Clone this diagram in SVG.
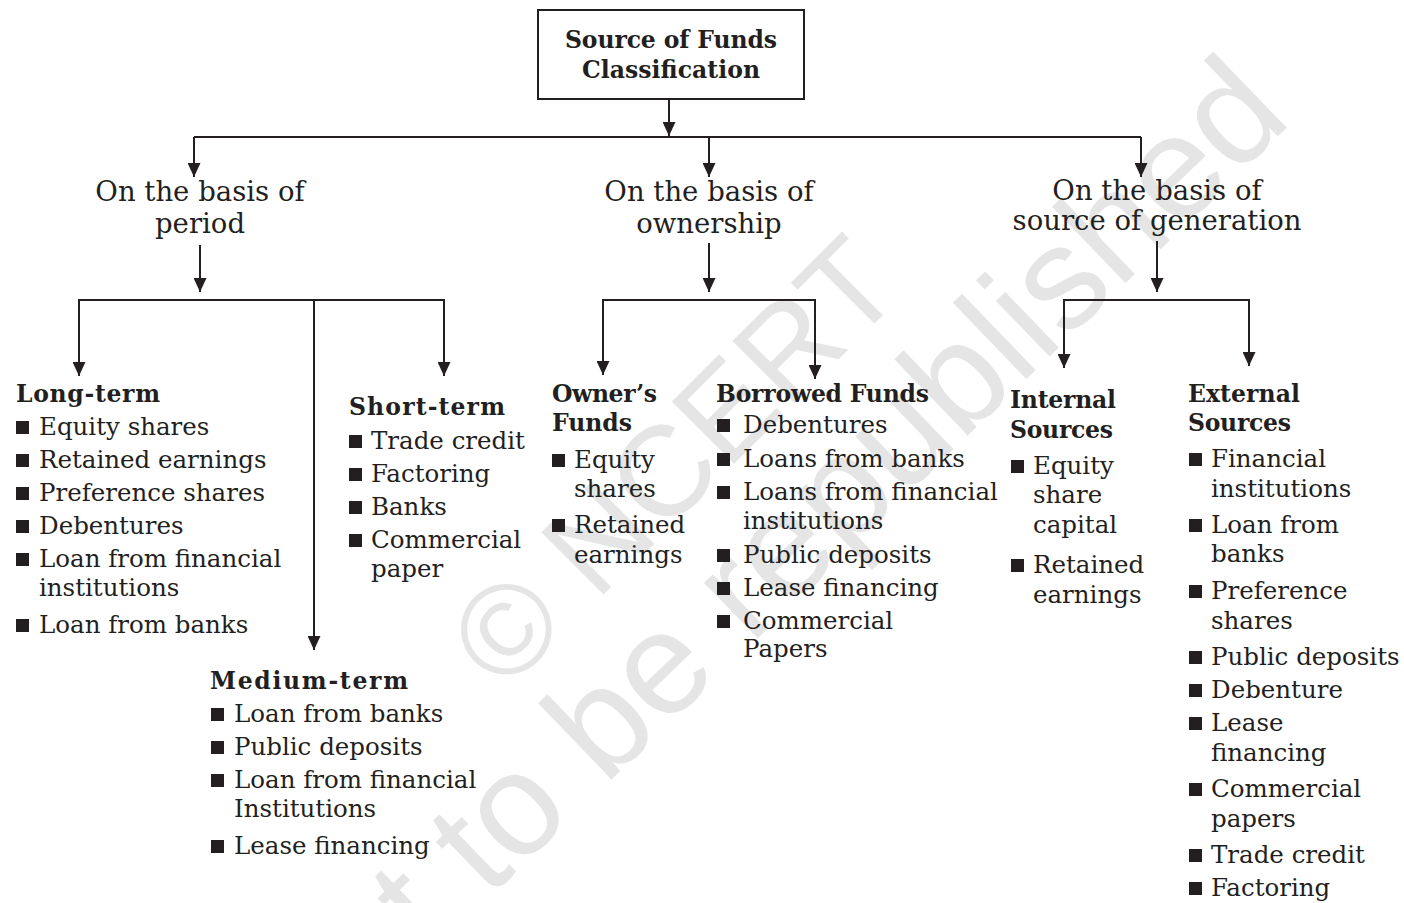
<svg xmlns="http://www.w3.org/2000/svg" width="1404" height="903" viewBox="0 0 1404 903">
<style>
.t{font-family:"DejaVu Serif","Liberation Serif",serif;font-size:24.5px;fill:#231f20}
.h{font-family:"DejaVu Serif","Liberation Serif",serif;font-size:27.5px;fill:#231f20;text-anchor:middle}
.b{font-family:"DejaVu Serif","Liberation Serif",serif;font-size:23.5px;font-weight:bold;fill:#231f20}
.wm{font-family:"Liberation Sans",Arial,sans-serif;fill:#e5e5e5}
.c{fill:none;stroke:#231f20;stroke-width:2}
.sq{fill:#231f20}
</style>
<defs>
<marker id="arr" markerUnits="userSpaceOnUse" markerWidth="15" markerHeight="13" refX="14" refY="6.5" orient="auto" viewBox="0 0 15 13">
<path d="M0,0 L14,6.5 L0,13 Z" fill="#231f20"/>
</marker>
<rect id="sq" width="13" height="13" class="sq"/>
</defs>
<rect width="1404" height="903" fill="#ffffff"/>
<g id="watermark">
<text class="wm" font-size="128" transform="translate(505,628) rotate(-45)" x="-47" y="46">© NCERT</text>
<text class="wm" font-size="146" transform="translate(520,815) rotate(-44)" x="-325" y="38">not to be republished</text>
</g>
<g id="connectors">
<path class="c" d="M669,99 V136" marker-end="url(#arr)"/>
<path class="c" d="M194,137 H1141"/>
<path class="c" d="M194,137 V177" marker-end="url(#arr)"/>
<path class="c" d="M709,137 V177" marker-end="url(#arr)"/>
<path class="c" d="M1141,137 V177" marker-end="url(#arr)"/>
<path class="c" d="M200,245 V292" marker-end="url(#arr)"/>
<path class="c" d="M709,243 V292" marker-end="url(#arr)"/>
<path class="c" d="M1157,241 V292" marker-end="url(#arr)"/>
<path class="c" d="M314,300 H79 V376" marker-end="url(#arr)"/>
<path class="c" d="M314,300 H444 V376" marker-end="url(#arr)"/>
<path class="c" d="M314,300 V650" marker-end="url(#arr)"/>
<path class="c" d="M709,300 H603 V375" marker-end="url(#arr)"/>
<path class="c" d="M709,300 H815 V379" marker-end="url(#arr)"/>
<path class="c" d="M1157,300 H1064 V368" marker-end="url(#arr)"/>
<path class="c" d="M1157,300 H1249 V366" marker-end="url(#arr)"/>
</g>
<g id="root">
<rect x="538" y="10" width="266" height="89" fill="#ffffff" stroke="#231f20" stroke-width="2"/>
<text class="b" x="565" y="48" textLength="212">Source of Funds</text>
<text class="b" x="582" y="78" textLength="178">Classification</text>
</g>
<g id="period">
<text class="h" x="200" y="201">On the basis of</text>
<text class="h" x="200" y="233">period</text>
</g>
<g id="ownership">
<text class="h" x="709" y="201">On the basis of</text>
<text class="h" x="709" y="233">ownership</text>
</g>
<g id="generation">
<text class="h" x="1157" y="200">On the basis of</text>
<text class="h" x="1157" y="230">source of generation</text>
</g>
<g id="long-term">
<text class="b" x="16" y="402" textLength="144">Long-term</text>
<use href="#sq" x="16" y="421"/><text class="t" x="39" y="435">Equity shares</text>
<use href="#sq" x="16" y="454"/><text class="t" x="39" y="468">Retained earnings</text>
<use href="#sq" x="16" y="487"/><text class="t" x="39" y="501">Preference shares</text>
<use href="#sq" x="16" y="520"/><text class="t" x="39" y="534">Debentures</text>
<use href="#sq" x="16" y="553"/><text class="t" x="39" y="567">Loan from financial</text>
<text class="t" x="39" y="596">institutions</text>
<use href="#sq" x="16" y="619"/><text class="t" x="39" y="633">Loan from banks</text>
</g>
<g id="short-term">
<text class="b" x="349" y="415" textLength="156">Short-term</text>
<use href="#sq" x="349" y="435"/><text class="t" x="371" y="449">Trade credit</text>
<use href="#sq" x="349" y="468"/><text class="t" x="371" y="482">Factoring</text>
<use href="#sq" x="349" y="501"/><text class="t" x="371" y="515">Banks</text>
<use href="#sq" x="349" y="534"/><text class="t" x="371" y="548">Commercial</text>
<text class="t" x="371" y="577">paper</text>
</g>
<g id="medium-term">
<text class="b" x="210" y="689" textLength="198">Medium-term</text>
<use href="#sq" x="211" y="708"/><text class="t" x="234" y="722">Loan from banks</text>
<use href="#sq" x="211" y="741"/><text class="t" x="234" y="755">Public deposits</text>
<use href="#sq" x="211" y="774"/><text class="t" x="234" y="788">Loan from financial</text>
<text class="t" x="234" y="817">Institutions</text>
<use href="#sq" x="211" y="840"/><text class="t" x="234" y="854">Lease financing</text>
</g>
<g id="owners-funds">
<text class="b" x="552" y="402" textLength="105">Owner’s</text>
<text class="b" x="552" y="431" textLength="80">Funds</text>
<use href="#sq" x="552" y="454"/><text class="t" x="574" y="468">Equity</text>
<text class="t" x="574" y="497">shares</text>
<use href="#sq" x="552" y="519"/><text class="t" x="574" y="533">Retained</text>
<text class="t" x="574" y="563">earnings</text>
</g>
<g id="borrowed-funds">
<text class="b" x="716" y="402" textLength="213">Borrowed Funds</text>
<use href="#sq" x="717" y="419"/><text class="t" x="743" y="433">Debentures</text>
<use href="#sq" x="717" y="453"/><text class="t" x="743" y="467">Loans from banks</text>
<use href="#sq" x="717" y="486"/><text class="t" x="743" y="500">Loans from financial</text>
<text class="t" x="743" y="529">institutions</text>
<use href="#sq" x="717" y="549"/><text class="t" x="743" y="563">Public deposits</text>
<use href="#sq" x="717" y="582"/><text class="t" x="743" y="596">Lease financing</text>
<use href="#sq" x="717" y="615"/><text class="t" x="743" y="629">Commercial</text>
<text class="t" x="743" y="657">Papers</text>
</g>
<g id="internal-sources">
<text class="b" x="1010" y="408" textLength="106">Internal</text>
<text class="b" x="1010" y="438" textLength="103">Sources</text>
<use href="#sq" x="1011" y="460"/><text class="t" x="1033" y="474">Equity</text>
<text class="t" x="1033" y="503">share</text>
<text class="t" x="1033" y="533">capital</text>
<use href="#sq" x="1011" y="559"/><text class="t" x="1033" y="573">Retained</text>
<text class="t" x="1033" y="603">earnings</text>
</g>
<g id="external-sources">
<text class="b" x="1188" y="402" textLength="112">External</text>
<text class="b" x="1188" y="431" textLength="103">Sources</text>
<use href="#sq" x="1189" y="453"/><text class="t" x="1211" y="467">Financial</text>
<text class="t" x="1211" y="497">institutions</text>
<use href="#sq" x="1189" y="519"/><text class="t" x="1211" y="533">Loan from</text>
<text class="t" x="1211" y="562">banks</text>
<use href="#sq" x="1189" y="585"/><text class="t" x="1211" y="599">Preference</text>
<text class="t" x="1211" y="629">shares</text>
<use href="#sq" x="1189" y="651"/><text class="t" x="1211" y="665">Public deposits</text>
<use href="#sq" x="1189" y="684"/><text class="t" x="1211" y="698">Debenture</text>
<use href="#sq" x="1189" y="717"/><text class="t" x="1211" y="731">Lease</text>
<text class="t" x="1211" y="761">financing</text>
<use href="#sq" x="1189" y="783"/><text class="t" x="1211" y="797">Commercial</text>
<text class="t" x="1211" y="827">papers</text>
<use href="#sq" x="1189" y="849"/><text class="t" x="1211" y="863">Trade credit</text>
<use href="#sq" x="1189" y="882"/><text class="t" x="1211" y="896">Factoring</text>
</g>
</svg>
